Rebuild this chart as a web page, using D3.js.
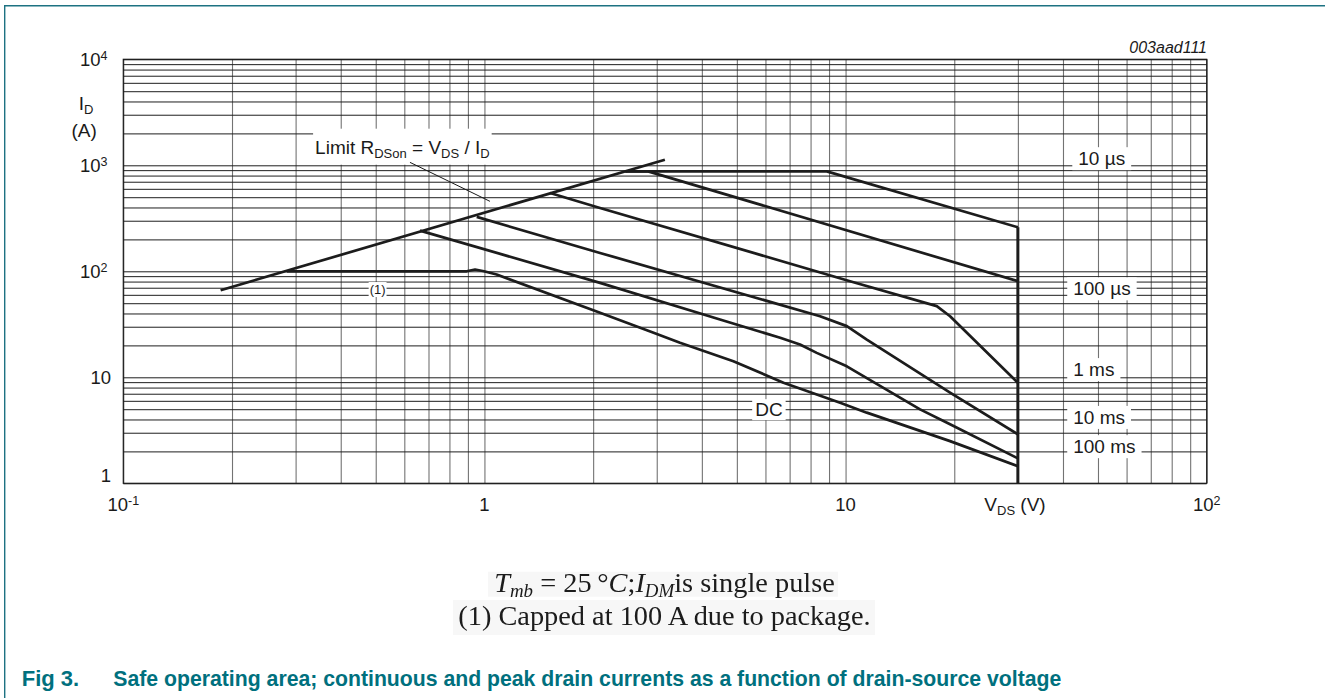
<!DOCTYPE html>
<html>
<head>
<meta charset="utf-8">
<script src="https://cdn.jsdelivr.net/npm/d3@7"></script>
<style>
  body { margin: 0; background: #fff; }
  svg { display: block; }
  text { font-family: "Liberation Sans", Arial, Helvetica, sans-serif; fill: #1a1a1a; }
</style>
</head>
<body>
<svg id="chart" width="1325" height="698"></svg>
<script>
// ---- axis ticks ----
const xTickValues = [0.1, 1, 10, 100];
const xTickLabels = [["10", "-1"], ["1", ""], ["10", ""], ["10", "2"]];
const yTickValues = [1, 10, 100, 1000, 10000];
const yTickLabels = [["1", ""], ["10", ""], ["10", "2"], ["10", "3"], ["10", "4"]];

// ---- R_DSon limit line (V, A) ----
const rdsLimitV = [0.186, 3.16];
const rdsLimitI = [66.3, 1130];

// ---- pulse-duration SOA curves (V, A) ----
const tp10usV  = [2.456, 8.87, 30];
const tp10usI  = [877, 877, 260];
const tp100usV = [2.456, 2.84, 30];
const tp100usI = [877, 877, 80.6];
const tp1msV   = [1.52, 2.09, 10.29, 17.89, 19.47, 30];
const tp1msI   = [548, 396, 80.6, 46.9, 37.7, 8.89];
const tp10msV  = [0.952, 2.09, 8.50, 10.08, 11.45, 19.47, 30];
const tp10msI  = [326, 149, 37.7, 30.4, 22.7, 7.16, 2.90];
const tp100msV = [0.663, 2.09, 4.49, 6.59, 7.48, 8.32, 10.08, 16.08, 19.47, 30];
const tp100msI = [242, 77.8, 35.1, 23.6, 20.4, 17.0, 12.7, 4.98, 3.60, 1.72];
const dcV      = [0.2835, 0.893, 0.942, 0.997, 1.081, 2.09, 2.94, 3.48, 4.89, 6.73, 9.66, 11.45, 19.47, 30];
const dcI      = [100, 100, 103.9, 100, 93.2, 40.6, 26.3, 21.2, 14.2, 8.89, 5.76, 4.64, 2.50, 1.45];

// ---- maximum V_DS edge ----
const vdsMax = 30;
const vdsMaxI = [1, 260];

// ---- curve labels (text start V, centre I) ----
const curveLabels = ["10 \u00b5s", "100 \u00b5s", "1 ms", "10 ms", "100 ms", "DC"];
const curveLabelV = [44.1, 42.7, 42.7, 42.7, 42.7, 5.62];
const curveLabelI = [1162, 68.8, 11.9, 4.21, 2.23, 4.98];

// ---- annotations ----
const capNoteV = 0.506, capNoteI = 67.3;          // "(1)"
const limitTextV = 0.3397, limitTextI = 1287;     // "Limit R_DSon = V_DS / I_D" baseline
const leaderV = [0.622, 1.036];
const leaderI = [1066, 457];

// ------------------------------------------------------------
const W = 1325, H = 698;
const svg = d3.select("#chart");
svg.append("rect").attr("width", W).attr("height", H).attr("fill", "#fff");

// page frame
svg.append("path")
  .attr("d", `M4.7,${H} V5.7 H${W}`)
  .attr("fill", "none").attr("stroke", "#1d7282").attr("stroke-width", 1.4);

const plot = { left: 123.3, right: 1206.7, top: 59.3, bottom: 483.3 };
const x = d3.scaleLog().domain([0.1, 100]).range([plot.left, plot.right]);
const y = d3.scaleLog().domain([1, 1e4]).range([plot.bottom, plot.top]);

// grid values: 1..9 per decade
const gridX = [];
for (const d of [0.1, 1, 10]) for (let k = 1; k <= 9; k++) gridX.push(+(k * d).toPrecision(3));
gridX.push(100);
const gridY = [];
for (const d of [1, 10, 100, 1000]) for (let k = 1; k <= 9; k++) gridY.push(k * d);
gridY.push(10000);

const gV = svg.append("g")
  .attr("transform", `translate(0,${plot.bottom})`)
  .call(d3.axisBottom(x).tickValues(gridX).tickSize(-(plot.bottom - plot.top)).tickFormat(""));
gV.select(".domain").remove();
gV.selectAll("line").attr("stroke", "#737373").attr("stroke-width", 1.1);

const gH = svg.append("g")
  .attr("transform", `translate(${plot.left},0)`)
  .call(d3.axisLeft(y).tickValues(gridY).tickSize(-(plot.right - plot.left)).tickFormat(""));
gH.select(".domain").remove();
gH.selectAll("line").attr("stroke", "#1e1e1e").attr("stroke-width", 1);

svg.append("rect")
  .attr("x", plot.left).attr("y", plot.top)
  .attr("width", plot.right - plot.left).attr("height", plot.bottom - plot.top)
  .attr("fill", "none").attr("stroke", "#1a1a1a").attr("stroke-width", 1.2);

// white box behind a text node
function boxBehind(textSel, padX, padTop, padBottom) {
  const b = textSel.node().getBBox();
  d3.select(textSel.node().parentNode)
    .insert("rect", () => textSel.node())
    .attr("x", b.x - padX).attr("y", b.y - padTop)
    .attr("width", b.width + 2 * padX).attr("height", b.height + padTop + padBottom)
    .attr("fill", "#fff");
}

const labelLayer = svg.append("g");

// curve labels
curveLabels.forEach((s, i) => {
  const t = labelLayer.append("text")
    .attr("x", x(curveLabelV[i]))
    .attr("y", y(curveLabelI[i]) + 6.8)
    .attr("font-size", 19)
    .text(s);
  if (s === "DC") boxBehind(t, 3, 0, 0);
  else boxBehind(t, 6, 1, 1);
});

// "(1)"
const note = labelLayer.append("text")
  .attr("x", x(capNoteV)).attr("y", y(capNoteI) + 4.5)
  .attr("text-anchor", "middle").attr("font-size", 13).text("(1)");
boxBehind(note, 1, 0, 0);

// Limit R_DSon label
const lim = labelLayer.append("text")
  .attr("x", x(limitTextV)).attr("y", y(limitTextI)).attr("font-size", 19);
lim.append("tspan").text("Limit R");
lim.append("tspan").attr("font-size", 13).attr("dy", 4).text("DSon");
lim.append("tspan").attr("dy", -4).text(" = V");
lim.append("tspan").attr("font-size", 13).attr("dy", 4).text("DS");
lim.append("tspan").attr("dy", -4).text(" / I");
lim.append("tspan").attr("font-size", 13).attr("dy", 4).text("D");
boxBehind(lim, 2, 8, 4);

// leader line
svg.append("path")
  .attr("d", d3.line().x(d => x(d[0])).y(d => y(d[1]))(d3.zip(leaderV, leaderI)))
  .attr("fill", "none").attr("stroke", "#1a1a1a").attr("stroke-width", 1);

// curves
const line = d3.line().x(d => x(d[0])).y(d => y(d[1]));
const curves = [
  [rdsLimitV, rdsLimitI],
  [tp10usV, tp10usI],
  [tp100usV, tp100usI],
  [tp1msV, tp1msI],
  [tp10msV, tp10msI],
  [tp100msV, tp100msI],
  [dcV, dcI]
];
svg.append("g").selectAll("path")
  .data(curves)
  .join("path")
  .attr("d", c => line(d3.zip(c[0], c[1])))
  .attr("fill", "none")
  .attr("stroke", "#1c1c1c")
  .attr("stroke-width", 2.7)
  .attr("stroke-linejoin", "round");

// V_DS max edge
svg.append("path")
  .attr("d", line([[vdsMax, vdsMaxI[0]], [vdsMax, vdsMaxI[1]]]))
  .attr("stroke", "#1c1c1c").attr("stroke-width", 3);

// y tick labels
yTickValues.forEach((v, i) => {
  const [base, sup] = yTickLabels[i];
  const t = svg.append("text")
    .attr("x", sup ? 107.5 : 111)
    .attr("y", y(v) + (v === 1 ? -1.5 : 6.8))
    .attr("text-anchor", "end").attr("font-size", 18.5);
  t.append("tspan").text(base);
  if (sup) t.append("tspan").attr("font-size", 12.5).attr("dy", -6).text(sup);
});

// x tick labels
xTickValues.forEach((v, i) => {
  const [base, sup] = xTickLabels[i];
  const t = svg.append("text")
    .attr("x", x(v)).attr("y", 511)
    .attr("text-anchor", "middle").attr("font-size", 18.5);
  t.append("tspan").text(base);
  if (sup) t.append("tspan").attr("font-size", 12.5).attr("dy", -6).text(sup);
});

// axis titles
const xt = svg.append("text").attr("x", 1015).attr("y", 511)
  .attr("text-anchor", "middle").attr("font-size", 19);
xt.append("tspan").text("V");
xt.append("tspan").attr("font-size", 13).attr("dy", 4).text("DS");
xt.append("tspan").attr("dy", -4).text(" (V)");

const yt = svg.append("text").attr("x", 86).attr("y", 110)
  .attr("text-anchor", "middle").attr("font-size", 19);
yt.append("tspan").text("I");
yt.append("tspan").attr("font-size", 13).attr("dy", 4).text("D");
svg.append("text").attr("x", 84.2).attr("y", 137)
  .attr("text-anchor", "middle").attr("font-size", 19).text("(A)");

// drawing code
svg.append("text").attr("x", 1207).attr("y", 53.3)
  .attr("text-anchor", "end").attr("font-size", 16).attr("font-style", "italic")
  .text("003aad111");

// conditions note
const defs = svg.append("defs");
defs.append("filter").attr("id", "soft")
  .append("feGaussianBlur").attr("stdDeviation", 0.35);

svg.append("rect").attr("x", 488).attr("y", 571.7).attr("width", 350).attr("height", 25).attr("fill", "#f7f7f7");
svg.append("rect").attr("x", 453).attr("y", 600).attr("width", 422).attr("height", 35).attr("fill", "#f7f7f7");

const capG = svg.append("g")
  .attr("transform", "translate(664.5,0) scale(1.05,1)")
  .attr("filter", "url(#soft)");
const serif = '"Liberation Serif", "Times New Roman", serif';
const c1 = capG.append("text").attr("x", 0).attr("y", 591.7)
  .attr("text-anchor", "middle").attr("font-size", 27).style("font-family", serif);
c1.append("tspan").attr("font-style", "italic").text("T");
c1.append("tspan").attr("font-style", "italic").attr("font-size", 18).attr("dy", 5).text("mb");
c1.append("tspan").attr("dy", -5).text(" = 25\u2009\u00b0");
c1.append("tspan").attr("font-style", "italic").text("C");
c1.append("tspan").text(";");
c1.append("tspan").attr("font-style", "italic").text("I");
c1.append("tspan").attr("font-style", "italic").attr("font-size", 18).attr("dy", 5).text("DM");
c1.append("tspan").attr("dy", -5).text("is single pulse");

capG.append("text").attr("x", 0).attr("y", 625)
  .attr("text-anchor", "middle").attr("font-size", 27).style("font-family", serif)
  .text("(1) Capped at 100 A due to package.");

// figure title
const teal = "#00707e";
svg.append("text").attr("x", 21.7).attr("y", 686)
  .attr("font-size", 22).attr("font-weight", "bold").style("fill", teal)
  .text("Fig 3.");
svg.append("text").attr("x", 113.3).attr("y", 686)
  .attr("font-size", 22).attr("font-weight", "bold").style("fill", teal)
  .attr("textLength", 948).attr("lengthAdjust", "spacingAndGlyphs")
  .text("Safe operating area; continuous and peak drain currents as a function of drain-source voltage");
</script>
</body>
</html>
